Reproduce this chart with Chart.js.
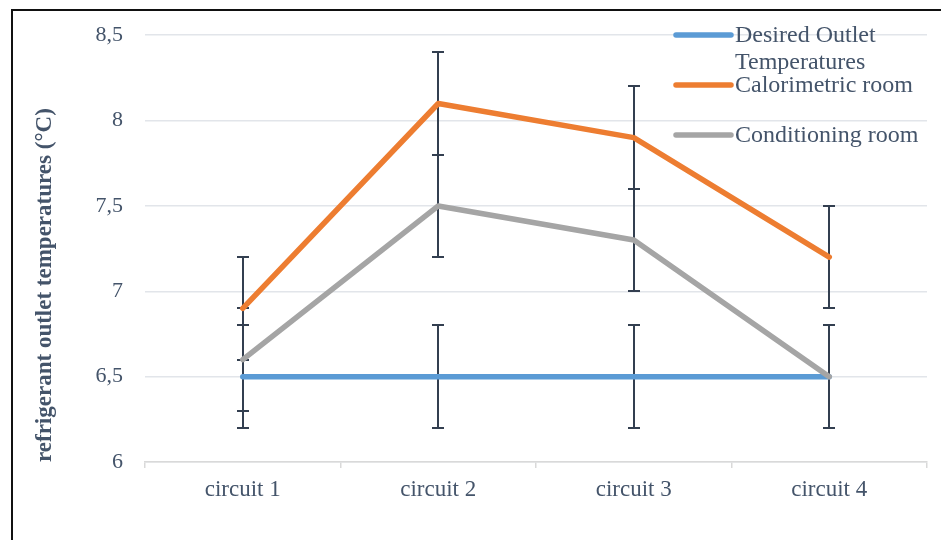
<!DOCTYPE html>
<html>
<head>
<meta charset="utf-8">
<script src="https://cdn.jsdelivr.net/npm/chart.js@4"></script>
<style>
  html, body { margin: 0; padding: 0; background: #fff; }
  #wrap { position: relative; width: 941px; height: 540px; overflow: hidden; }
  #frame { position: absolute; left: 11px; top: 9px; right: -5px; bottom: -5px;
           border-left: 2px solid #111; border-top: 2px solid #111; pointer-events: none; }
</style>
</head>
<body>
<div id="wrap">
  <canvas id="myChart" width="941" height="540"></canvas>
  <div id="frame"></div>
</div>
<script>
var categories = ['circuit 1', 'circuit 2', 'circuit 3', 'circuit 4'];
var desiredValues = [6.5, 6.5, 6.5, 6.5];
var calorimetricValues = [6.9, 8.1, 7.9, 7.2];
var conditioningValues = [6.6, 7.5, 7.3, 6.5];
var desiredErrors = [0.3, 0.3, 0.3, 0.3];
var calorimetricErrors = [0.3, 0.3, 0.3, 0.3];
var conditioningErrors = [0.3, 0.3, 0.3, 0.3];
var seriesNames = ['Desired Outlet Temperatures', 'Calorimetric room', 'Conditioning room'];
var yTicks = [6, 6.5, 7, 7.5, 8, 8.5];

var serif = '"Liberation Serif", "DejaVu Serif", serif';
var textColor = '#44546a';
var colors = ['#5b9bd5', '#ed7d31', '#a5a5a5'];

// error bars, drawn under the lines
var errorBars = {
    id: 'errorBars',
    beforeDatasetsDraw: function(chart) {
        var ctx = chart.ctx;
        var yScale = chart.scales.y;
        ctx.save();
        ctx.strokeStyle = '#333f50';
        ctx.lineWidth = 2;
        chart.data.datasets.forEach(function(ds, i) {
            var meta = chart.getDatasetMeta(i);
            meta.data.forEach(function(pt, j) {
                var v = ds.data[j], e = ds.errors[j];
                var yTop = Math.round(yScale.getPixelForValue(v + e));
                var yBot = Math.round(yScale.getPixelForValue(v - e));
                var x = Math.round(pt.x);
                ctx.beginPath();
                ctx.moveTo(x, yTop); ctx.lineTo(x, yBot);
                ctx.moveTo(x - 6, yTop); ctx.lineTo(x + 6, yTop);
                ctx.moveTo(x - 6, yBot); ctx.lineTo(x + 6, yBot);
                ctx.stroke();
            });
        });
        ctx.restore();
    }
};

// legend placed like the original, on top of the plot
var sideLegend = {
    id: 'sideLegend',
    afterDraw: function(chart) {
        var ctx = chart.ctx;
        ctx.save();
        ctx.font = '24px ' + serif;
        ctx.fillStyle = textColor;
        ctx.textBaseline = 'middle';
        ctx.lineCap = 'round';
        ctx.lineWidth = 5.5;
        var rows = [
            {y: 35, lines: ['Desired Outlet', 'Temperatures']},
            {y: 85, lines: ['Calorimetric room']},
            {y: 135, lines: ['Conditioning room']}
        ];
        rows.forEach(function(r, i) {
            ctx.strokeStyle = colors[i];
            ctx.beginPath();
            ctx.moveTo(676, r.y); ctx.lineTo(731, r.y);
            ctx.stroke();
            r.lines.forEach(function(t, k) {
                ctx.fillText(t, 735, r.y + 1 + k * 27);
            });
        });
        ctx.restore();
    }
};

function makeSet(label, data, errors, color, order) {
    return {
        label: label,
        data: data,
        errors: errors,
        borderColor: color,
        backgroundColor: color,
        borderWidth: 5.5,
        borderCapStyle: 'round',
        borderJoinStyle: 'round',
        pointRadius: 0,
        tension: 0,
        fill: false,
        order: order
    };
}

var graphData = {
    type: 'line',
    data: {
        labels: categories,
        datasets: [
            makeSet(seriesNames[0], desiredValues, desiredErrors, colors[0], 3),
            makeSet(seriesNames[1], calorimetricValues, calorimetricErrors, colors[1], 2),
            makeSet(seriesNames[2], conditioningValues, conditioningErrors, colors[2], 1)
        ]
    },
    options: {
        responsive: false,
        animation: false,
        layout: { padding: { top: 16, right: 14, left: 0, bottom: 0 } },
        plugins: { legend: { display: false }, tooltip: { enabled: false } },
        scales: {
            x: {
                offset: true,
                grid: { offset: true, drawOnChartArea: false, drawTicks: true, tickLength: 6, color: '#d9d9d9', lineWidth: 1.5 },
                border: { color: '#d9d9d9', width: 1.5 },
                ticks: { color: textColor, font: { family: serif, size: 23 }, padding: 8, maxRotation: 0 },
                afterFit: function(s) { s.height = 78; }
            },
            y: {
                min: 6,
                max: 8.5,
                afterBuildTicks: function(s) { s.ticks = yTicks.map(function(v) { return {value: v}; }); },
                grid: { color: '#e2e5ea', lineWidth: 1.5, drawTicks: false },
                border: { display: false },
                ticks: {
                    color: textColor,
                    font: { family: serif, size: 22 },
                    padding: 22,
                    callback: function(v) { return String(v).replace('.', ','); }
                },
                title: {
                    display: true,
                    align: 'start',
                    text: 'refrigerant outlet temperatures (°C)',
                    color: textColor,
                    font: { family: serif, size: 23, weight: 'bold' },
                    padding: { top: 31, bottom: 0 }
                },
                afterFit: function(s) { s.width = 145; }
            }
        }
    },
    plugins: [errorBars, sideLegend]
};

var myChart = new Chart(document.getElementById('myChart'), graphData);
</script>
</body>
</html>
